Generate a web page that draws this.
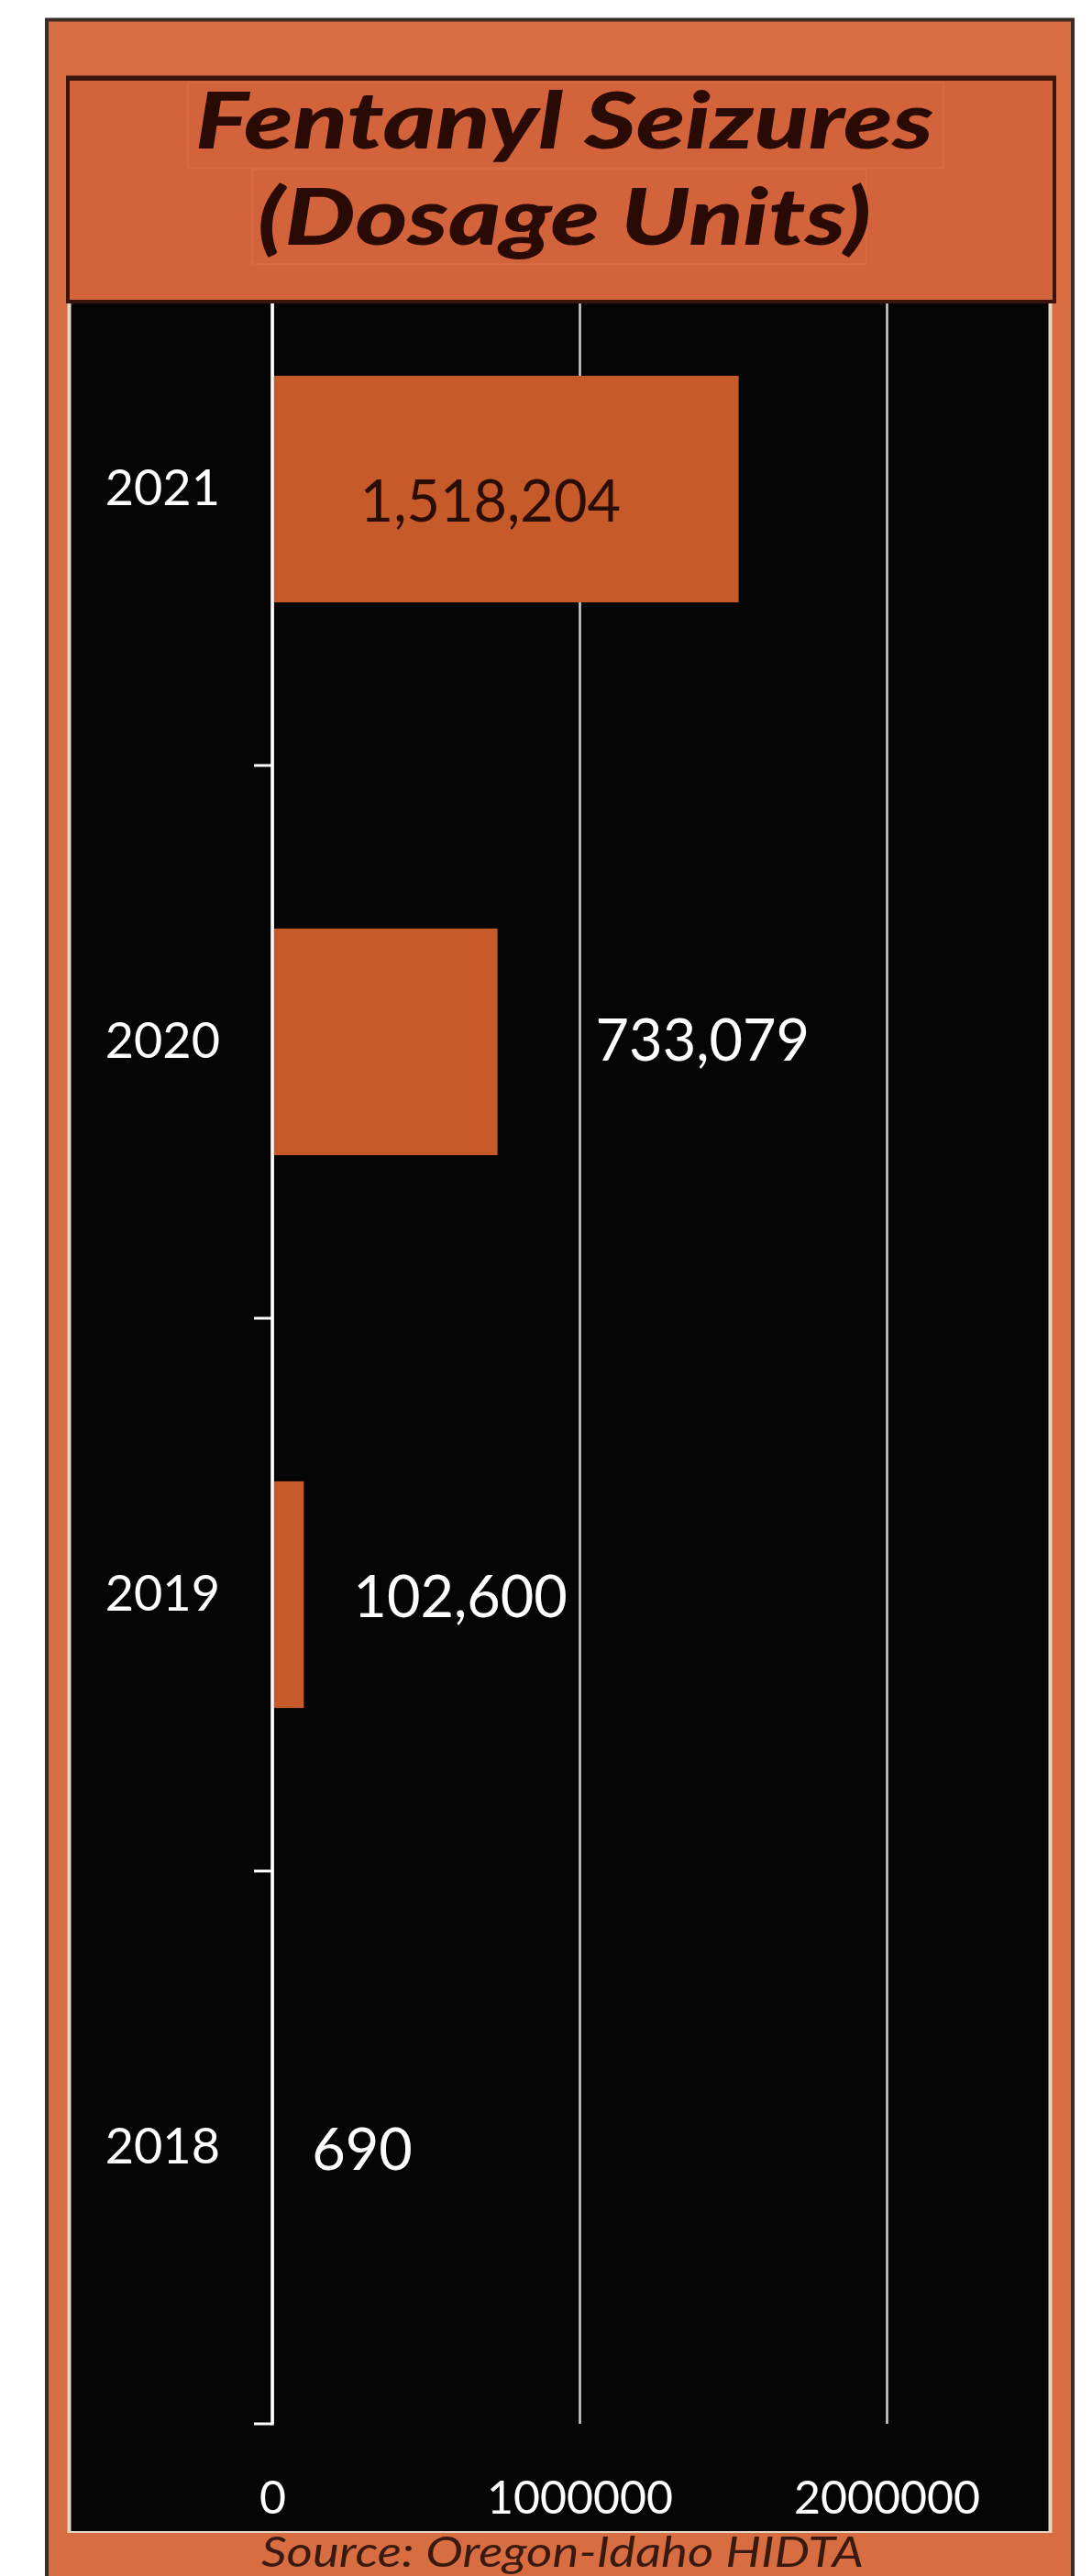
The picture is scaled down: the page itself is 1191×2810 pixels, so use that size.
<!DOCTYPE html>
<html>
<head>
<meta charset="utf-8">
<script src="https://cdn.jsdelivr.net/npm/d3@7"></script>
<style>
  body { margin: 0; background: #fff; }
  svg { display: block; }
  text { font-family: Lato, "Open Sans", sans-serif; }
</style>
</head>
<body>
<script>
// chart data
const years = ["2021", "2020", "2019", "2018"];
const seizures = [1518204, 733079, 102600, 690];
const xTicks = [0, 1000000, 2000000];
const titleLines = ["Fentanyl Seizures", "(Dosage Units)"];
const sourceText = "Source: Oregon-Idaho HIDTA";

const width = 1191,
  height = 2810;

const svg = d3
  .select("body")
  .append("svg")
  .attr("width", width)
  .attr("height", height);

// outer orange frame
svg
  .append("rect")
  .attr("x", 51)
  .attr("y", 21.5)
  .attr("width", 1119)
  .attr("height", 2850)
  .attr("fill", "#d76d40")
  .attr("stroke", "#3d2b26")
  .attr("stroke-width", 4);

// black plot background with pale edges
svg
  .append("rect")
  .attr("x", 75.5)
  .attr("y", 300)
  .attr("width", 1070)
  .attr("height", 2463)
  .attr("fill", "#050505")
  .attr("stroke", "#e6d6c6")
  .attr("stroke-width", 4);
svg
  .append("rect")
  .attr("x", 73)
  .attr("y", 2763)
  .attr("width", 1076)
  .attr("height", 6)
  .attr("fill", "#d76d40");

var axisLeftX = 297,
  axisBottomY = 2644,
  plotTop = 331;

var x = d3
  .scaleLinear()
  .domain([0, 2000000])
  .range([axisLeftX, 967]);

var y = d3
  .scaleBand()
  .domain(years)
  .range([232, axisBottomY])
  .paddingInner(0.59)
  .paddingOuter(0.295);

// vertical gridlines
svg
  .append("g")
  .attr("class", "grid")
  .attr("transform", `translate(0,${axisBottomY})`)
  .call(
    d3
      .axisBottom(x)
      .tickValues(xTicks)
      .tickSize(-(axisBottomY - plotTop))
      .tickFormat("")
  )
  .call(g => g.select(".domain").remove())
  .call(g =>
    g
      .selectAll("line")
      .attr("stroke", "#d2d2d2")
      .attr("stroke-width", 2.5)
  );

// bars
svg
  .append("g")
  .selectAll("rect")
  .data(seizures)
  .enter()
  .append("rect")
  .attr("x", x(0))
  .attr("y", (d, i) => y(years[i]))
  .attr("width", d => Math.max(x(d) - x(0), 0.8))
  .attr("height", y.bandwidth())
  .attr("fill", (d, i) => (d < 5000 ? "#a0321e" : "#c65a28"));

// x axis labels
svg
  .append("g")
  .attr("class", "x-axis")
  .attr("transform", `translate(0,${axisBottomY})`)
  .call(
    d3
      .axisBottom(x)
      .tickValues(xTicks)
      .tickSize(0)
      .tickPadding(62)
      .tickFormat(d3.format("d"))
  )
  .call(g => g.select(".domain").remove())
  .call(g =>
    g
      .selectAll("text")
      .attr("fill", "#fff")
      .attr("font-size", 50)
      .attr("font-family", "Lato, sans-serif")
  );

// y axis: category labels
svg
  .append("g")
  .attr("class", "y-axis")
  .attr("transform", `translate(${axisLeftX},0)`)
  .call(
    d3
      .axisLeft(y)
      .tickSize(0)
      .tickPadding(57)
  )
  .call(g => g.select(".domain").remove())
  .call(g =>
    g
      .selectAll("text")
      .attr("fill", "#fff")
      .attr("font-size", 54)
      .attr("font-family", "Lato, sans-serif")
  );

// axis line + ticks between categories
var boundaries = years.map(
  d => y(d) + y.bandwidth() + (y.step() * y.paddingInner()) / 2
);
svg
  .append("line")
  .attr("x1", axisLeftX)
  .attr("x2", axisLeftX)
  .attr("y1", 232)
  .attr("y2", axisBottomY + 1.5)
  .attr("stroke", "#fff")
  .attr("stroke-width", 3.5);
svg
  .append("g")
  .selectAll("line")
  .data(boundaries)
  .enter()
  .append("line")
  .attr("x1", axisLeftX - 20)
  .attr("x2", axisLeftX)
  .attr("y1", d => d)
  .attr("y2", d => d)
  .attr("stroke", "#fff")
  .attr("stroke-width", 3);

// data labels (moved by hand in the original, so each has its own shift)
var labelShift = [[-413, 13], [107, -2], [54, 2], [43, 2]];
svg
  .append("g")
  .selectAll("text")
  .data(seizures)
  .enter()
  .append("text")
  .attr("x", (d, i) => x(d) + labelShift[i][0])
  .attr("y", (d, i) => y(years[i]) + y.bandwidth() / 2 + labelShift[i][1])
  .attr("dy", "0.35em")
  .attr("font-size", 63)
  .attr("fill", (d, i) => (i === 0 ? "#2a0d06" : "#fff"))
  .text(d => d3.format(",")(d));

// title box, drawn over the top of the plot
var titleBox = svg.append("g");
titleBox
  .append("rect")
  .attr("x", 74)
  .attr("y", 86)
  .attr("width", 1076)
  .attr("height", 243)
  .attr("fill", "#d3633a")
  .attr("stroke", "#3a150d")
  .attr("stroke-width", 4);
titleBox
  .append("line")
  .attr("x1", 72)
  .attr("x2", 1152)
  .attr("y1", 85)
  .attr("y2", 85)
  .attr("stroke", "#3a150d")
  .attr("stroke-width", 5);
// faint text-box outlines behind each title line
titleBox
  .selectAll(".tb")
  .data([[205, 90, 824, 93], [275, 185, 670, 103]])
  .enter()
  .append("rect")
  .attr("class", "tb")
  .attr("x", d => d[0])
  .attr("y", d => d[1])
  .attr("width", d => d[2])
  .attr("height", d => d[3])
  .attr("fill", "none")
  .attr("stroke", "#f0a080")
  .attr("stroke-opacity", 0.25)
  .attr("stroke-width", 1);
titleBox
  .selectAll(".title")
  .data(titleLines)
  .enter()
  .append("text")
  .attr("class", "title")
  .attr("x", (d, i) => (i === 0 ? 213 : 281))
  .attr("y", (d, i) => (i === 0 ? 162 : 267))
  .attr("textLength", (d, i) => (i === 0 ? 805 : 669))
  .attr("lengthAdjust", "spacingAndGlyphs")
  .attr("font-size", 86)
  .attr("font-weight", 900)
  .attr("font-style", "italic")
  .attr("fill", "#2a0a05")
  .text(d => d);

// source line at the bottom
svg
  .append("text")
  .attr("x", 285)
  .attr("y", 2800)
  .attr("textLength", 657)
  .attr("lengthAdjust", "spacingAndGlyphs")
  .attr("font-size", 47)
  .attr("font-style", "italic")
  .attr("fill", "#3a1a10")
  .text(sourceText);
</script>
</body>
</html>
